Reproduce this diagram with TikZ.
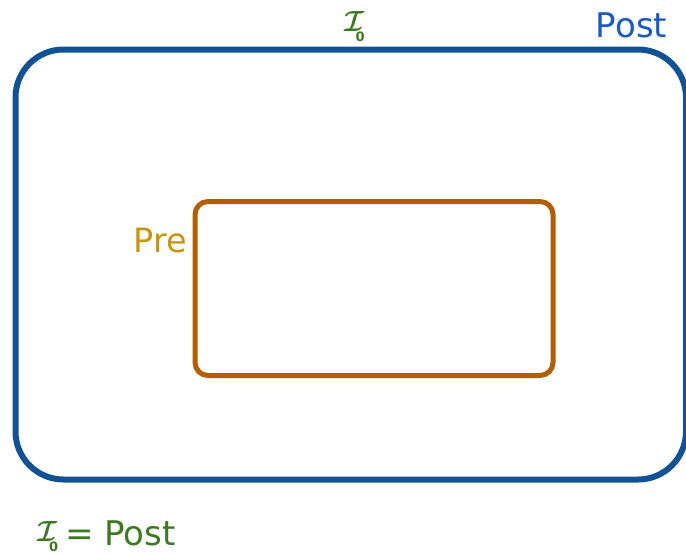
\documentclass[tikz,border=0pt]{standalone}
\usepackage{fontspec}
\setmainfont{DejaVu Sans}
\usepackage{amsmath}
\usepackage{bm}
\definecolor{postline}{HTML}{105295}
\definecolor{preline}{HTML}{B35E02}
\definecolor{posttext}{HTML}{1B58CC}
\definecolor{pretext}{HTML}{C8950C}
\definecolor{invgreen}{HTML}{3B7A1F}
% heavy calligraphic I with a small bold zero set below its foot
\newcommand{\invzero}{\resizebox{20pt}{20pt}{$\bm{\mathcal{I}}$}\kern-8.5pt\raisebox{-10pt}{\fontsize{13}{14}\selectfont\bfseries 0}}
\tikzset{
  setbox/.style={line width=#1},
  lbl/.style={inner sep=0pt, font=\fontsize{34}{38}\selectfont},
}
\begin{document}
\begin{tikzpicture}[x=1pt,y=-1pt]
  \useasboundingbox (0,0) rectangle (686,554);
  \begin{scope}
    \clip (0,0) rectangle (686,554);
    % postcondition region
    \draw[setbox=6pt, draw=postline, rounded corners=48pt]
      (15.5,49.5) rectangle (686,479.5);
  \end{scope}
  % precondition region
  \draw[setbox=5pt, draw=preline, rounded corners=13pt]
    (195,201.5) rectangle (553,375.5);
  % labels
  \node[lbl, text=posttext, anchor=base] (post) at (631.5,37) {Post};
  \node[lbl, text=pretext, anchor=base east, font=\fontsize{33.5}{38}\selectfont] (pre) at (187,252) {Pre};
  \node[inner sep=0pt, text=invgreen, anchor=base west] (inv) at (344,31) {\invzero};
  \node[inner sep=0pt, text=invgreen, anchor=base west] (inv2) at (37.5,541) {\invzero};
  \node[lbl, text=invgreen, anchor=base west] (eq) at (65,545) {= Post};
\end{tikzpicture}
\end{document}
